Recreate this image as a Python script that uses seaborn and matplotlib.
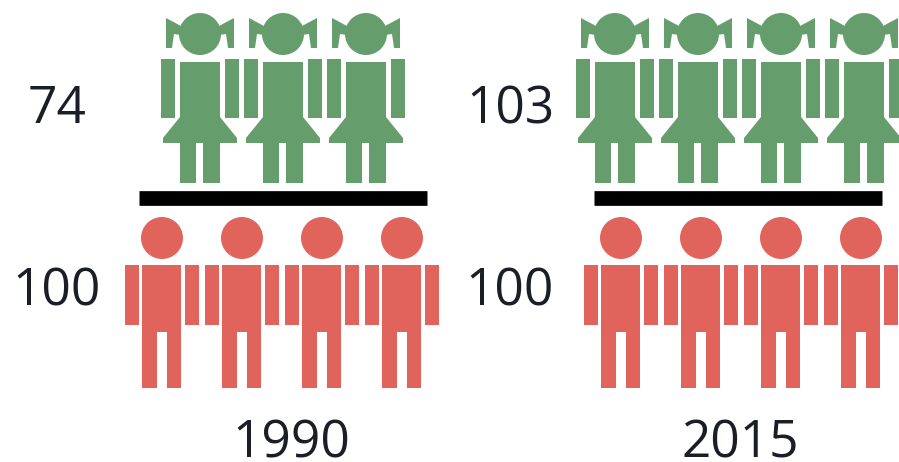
import numpy as np
import pandas as pd
import matplotlib
matplotlib.use("Agg")
import matplotlib.pyplot as plt
from matplotlib.path import Path
import seaborn as sns

# data: girls per 100 boys
YEARS = ["1990", "2015"]
GIRLS = [74, 103]
BOYS = [100, 100]
PEOPLE_PER_ICON = 25

GREEN = "#659E6C"
RED = "#E0645C"
INK = "#1b1e26"

# layout, in pixels of the 899x462 figure
GIRL_X = [283, 739.5]
BOY_X = [282, 741]
BAR_X = [282.5, 737.5]
GIRL_STEP = 83
BOY_STEP = 80
GIRL_Y = 98
BOY_Y = 302
BAR_Y = 197.5
BAR_HALF = 144
LABEL_X = [57, 510]
YEAR_X = [291, 740]


def poly(points):
    # keep every part counter-clockwise so overlaps stay filled
    pts = np.array(points, dtype=float)
    x, y = pts[:, 0], pts[:, 1]
    area = np.sum(x * np.roll(y, -1) - np.roll(x, -1) * y)
    if area < 0:
        pts = pts[::-1]
    return Path(np.vstack([pts, pts[0]]), closed=True)


def rect(x0, x1, y0, y1):
    return poly([(x0, y0), (x1, y0), (x1, y1), (x0, y1)])


def circle(cx, cy, r):
    return Path(Path.unit_circle().vertices * r + [cx, cy], Path.unit_circle().codes)


def girl_marker():
    bow = [(-34, 80), (-19, 72), (-19, 63), (-26, 64), (-28, 50), (-34, 50)]
    dress = [(-20, 36), (20, 36), (20, -19), (37, -40), (37, -45), (20, -45), (20, -85), (3, -85),
             (3, -45), (-4, -45), (-4, -85), (-20, -85), (-20, -45), (-37, -45), (-37, -40), (-20, -19)]
    parts = [
        circle(0, 64, 21),
        poly(bow),
        poly([(-x, y) for x, y in bow]),
        poly(dress),
        rect(-39, -25, -20, 39),
        rect(25, 39, -20, 39),
    ]
    return Path.make_compound_path(*parts)


def boy_marker():
    body = [(-20, 37), (19, 37), (19, -86), (5, -86), (5, -30), (-5, -30), (-5, -86), (-20, -86)]
    parts = [
        circle(0, 64, 21),
        poly(body),
        rect(-37, -23, -23, 37),
        rect(23, 37, -23, 37),
    ]
    return Path.make_compound_path(*parts)


def icon_table(values, centers, step):
    rows = []
    for g, v in enumerate(values):
        n = int(round(v / PEOPLE_PER_ICON))
        for i in range(n):
            rows.append({"year": YEARS[g], "x": centers[g] + (i - (n - 1) / 2) * step})
    return pd.DataFrame(rows)


sns.set_theme(style="white")
plt.rcParams["font.family"] = ["Open Sans", "DejaVu Sans"]

fig = plt.figure(figsize=(8.99, 4.62), dpi=100)
ax = fig.add_axes([0, 0, 1, 1])
ax.set_xlim(0, 899)
ax.set_ylim(462, 0)
ax.axis("off")

girls_df = icon_table(GIRLS, GIRL_X, GIRL_STEP).assign(y=GIRL_Y)
boys_df = icon_table(BOYS, BOY_X, BOY_STEP).assign(y=BOY_Y)

# marker paths are scaled by their largest vertex, so s comes from that extent
sns.scatterplot(data=girls_df, x="x", y="y", marker=girl_marker(), s=(2 * 85 * 0.72) ** 2,
                color=GREEN, edgecolor="none", linewidth=0, legend=False, ax=ax)
sns.scatterplot(data=boys_df, x="x", y="y", marker=boy_marker(), s=(2 * 86 * 0.72) ** 2,
                color=RED, edgecolor="none", linewidth=0, legend=False, ax=ax)

for g, year in enumerate(YEARS):
    ax.hlines(BAR_Y, BAR_X[g] - BAR_HALF, BAR_X[g] + BAR_HALF, color="black", linewidth=10.6)
    ax.text(LABEL_X[g], 123, str(GIRLS[g]), fontsize=37, color=INK, ha="center", va="baseline")
    ax.text(LABEL_X[g], 305, str(BOYS[g]), fontsize=37, color=INK, ha="center", va="baseline")
    ax.text(YEAR_X[g], 458, year, fontsize=37, color=INK, ha="center", va="baseline")

ax.set_xlabel("")
ax.set_ylabel("")
fig.savefig("out.png", dpi=100)
